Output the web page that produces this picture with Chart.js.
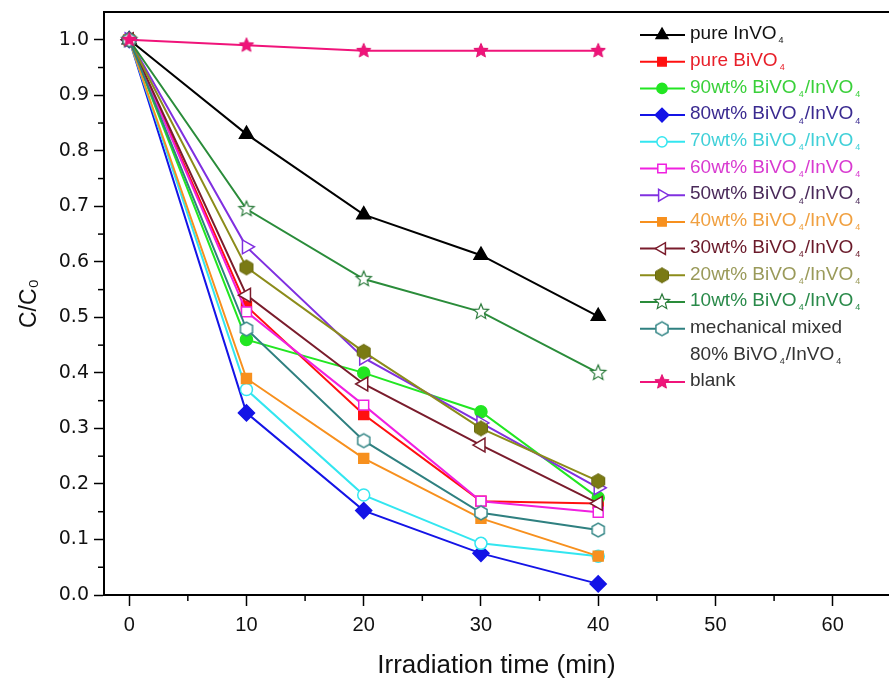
<!DOCTYPE html>
<html><head><meta charset="utf-8">
<script src="https://cdn.jsdelivr.net/npm/chart.js@4/dist/chart.umd.min.js"></script>
<style>html,body{margin:0;padding:0;background:#fff;overflow:hidden}#wrap{width:889px;height:679px;position:relative}</style>
</head><body><div id="wrap"><canvas id="c" width="889" height="679"></canvas></div>
<script>
// ---- data ----
const times = [0, 10, 20, 30, 40];
const pureInVO4 = [1.0, 0.83, 0.685, 0.612, 0.502];
const pureBiVO4 = [1.0, 0.52, 0.325, 0.169, 0.165];
const wt90 = [1.0, 0.46, 0.40, 0.33, 0.175];
const wt80 = [1.0, 0.328, 0.152, 0.075, 0.02];
const wt70 = [1.0, 0.37, 0.18, 0.093, 0.07];
const wt60 = [1.0, 0.51, 0.342, 0.169, 0.149];
const wt50 = [1.0, 0.627, 0.427, 0.31, 0.193];
const wt40 = [1.0, 0.39, 0.246, 0.138, 0.07];
const wt30 = [1.0, 0.54, 0.38, 0.27, 0.165];
const wt20 = [1.0, 0.59, 0.438, 0.30, 0.205];
const wt10 = [1.0, 0.695, 0.569, 0.51, 0.40];
const mechMixed = [1.0, 0.479, 0.278, 0.148, 0.117];
const blank = [1.0, 0.99, 0.98, 0.98, 0.98];
const seriesNames = ['pure InVO₄', 'pure BiVO₄', '90wt% BiVO₄/InVO₄', '80wt% BiVO₄/InVO₄', '70wt% BiVO₄/InVO₄',
  '60wt% BiVO₄/InVO₄', '50wt% BiVO₄/InVO₄', '40wt% BiVO₄/InVO₄', '30wt% BiVO₄/InVO₄', '20wt% BiVO₄/InVO₄',
  '10wt% BiVO₄/InVO₄', ['mechanical mixed', '80% BiVO₄/InVO₄'], 'blank'];
const seriesValues = [pureInVO4, pureBiVO4, wt90, wt80, wt70, wt60, wt50, wt40, wt30, wt20, wt10, mechMixed, blank];
const xTicks = [0, 10, 20, 30, 40, 50, 60];
const xMinorTicks = [5, 15, 25, 35, 45, 55];
const yMinorTicks = [0.05, 0.15, 0.25, 0.35, 0.45, 0.55, 0.65, 0.75, 0.85, 0.95];

// ---- styles ----
const lineColors = ['#000000', '#ff1010', '#22e622', '#1414e6', '#33e6f0', '#f020e0', '#8030e0', '#f7901e',
  '#7a1c2c', '#8c8c1a', '#2a8c3a', '#2f8080', '#f0147a'];
const textColors = ['#111111', '#e8202a', '#3ad03a', '#3a2a90', '#40d0d8', '#d83ad0', '#4a2a5a', '#f0a040',
  '#6a1a2a', '#9a9a5a', '#2a8a4a', '#333333', '#333333'];

function shapeCanvas(kind, r, fill, stroke, lw) {
  const s = Math.ceil(2 * r + lw + 2);
  const c = document.createElement('canvas');
  c.width = s; c.height = s;
  const g = c.getContext('2d');
  g.translate(s / 2, s / 2);
  g.beginPath();
  if (kind === 'hex') {
    for (let k = 0; k < 6; k++) {
      const a = Math.PI / 6 + k * Math.PI / 3;
      const px = r * Math.cos(a), py = r * Math.sin(a);
      k ? g.lineTo(px, py) : g.moveTo(px, py);
    }
  } else {
    for (let k = 0; k < 10; k++) {
      const a = -Math.PI / 2 + k * Math.PI / 5;
      const rr = k % 2 ? r * 0.45 : r;
      const px = rr * Math.cos(a), py = rr * Math.sin(a);
      k ? g.lineTo(px, py) : g.moveTo(px, py);
    }
  }
  g.closePath();
  if (fill) { g.fillStyle = fill; g.fill(); }
  if (stroke) { g.strokeStyle = stroke; g.lineWidth = lw; g.stroke(); }
  return c;
}
const hexOlive = shapeCanvas('hex', 7.5, '#7a7a14', '#6a6a10', 1);
const hexTeal = shapeCanvas('hex', 7, '#ffffff', '#3a8a8a', 1.5);
const starGreen = shapeCanvas('star', 8, '#ffffff', '#2a7a3a', 1.2);
const starPink = shapeCanvas('star', 7.5, '#f0147a', '#e01070', 1);

// pointStyle, rotation, radius, fill
const markers = [
  ['triangle', 0, 8, '#000000'],
  ['rect', 0, 7, '#ff1010'],
  ['circle', 0, 6, '#22e622'],
  ['rectRot', 0, 8, '#1414e6'],
  ['circle', 0, 6, '#ffffff'],
  ['rect', 0, 7, '#ffffff'],
  ['triangle', 90, 8, '#ffffff'],
  ['rect', 0, 7, '#f7901e'],
  ['triangle', -90, 8, '#ffffff'],
  [hexOlive, 0, 8, '#7a7a14'],
  [starGreen, 0, 8, '#ffffff'],
  [hexTeal, 0, 8, '#ffffff'],
  [starPink, 0, 8, '#f0147a']
];

const datasets = seriesValues.map((vals, i) => ({
  label: Array.isArray(seriesNames[i]) ? seriesNames[i].join(' ') : seriesNames[i],
  data: times.map((t, k) => ({ x: t, y: vals[k] })),
  borderColor: lineColors[i],
  backgroundColor: markers[i][3],
  borderWidth: 2,
  pointStyle: markers[i][0],
  rotation: markers[i][1],
  pointRadius: markers[i][2],
  pointBorderColor: lineColors[i],
  pointBackgroundColor: markers[i][3],
  pointBorderWidth: 1.5,
  tension: 0,
  order: -i
}));

function drawRich(ctx, text, x, y, font, subFont) {
  const parts = text.split('₄');
  let cx = x;
  parts.forEach((p, k) => {
    ctx.font = font;
    ctx.fillText(p, cx, y);
    cx += ctx.measureText(p).width;
    if (k < parts.length - 1) {
      cx += 2;
      ctx.font = subFont;
      ctx.fillText('4', cx, y + 7);
      cx += ctx.measureText('4').width + 1;
    }
  });
}

const framePlugin = {
  id: 'frame',
  afterDraw(chart) {
    const ctx = chart.ctx, a = chart.chartArea;
    const xs = chart.scales.x, ys = chart.scales.y;
    ctx.save();
    ctx.strokeStyle = '#000'; ctx.lineWidth = 2;
    ctx.beginPath(); ctx.moveTo(a.left - 1, a.top); ctx.lineTo(a.right + 2, a.top); ctx.stroke();
    ctx.lineWidth = 1.5;
    xMinorTicks.forEach(v => { const px = xs.getPixelForValue(v); ctx.beginPath(); ctx.moveTo(px, a.bottom); ctx.lineTo(px, a.bottom + 6); ctx.stroke(); });
    yMinorTicks.forEach(v => { const py = ys.getPixelForValue(v); ctx.beginPath(); ctx.moveTo(a.left, py); ctx.lineTo(a.left - 6, py); ctx.stroke(); });
    // legend
    const lx0 = 640, lx1 = 685, mx = 662, tx = 690, top = 35, rowH = 26.7;
    ctx.textBaseline = 'middle'; ctx.textAlign = 'left';
    let row = 0;
    seriesNames.forEach((name, i) => {
      const y = top + row * rowH;
      ctx.strokeStyle = lineColors[i]; ctx.lineWidth = 2;
      ctx.beginPath(); ctx.moveTo(lx0, y); ctx.lineTo(lx1, y); ctx.stroke();
      ctx.fillStyle = markers[i][3]; ctx.strokeStyle = lineColors[i]; ctx.lineWidth = 1.5;
      const opts = { pointStyle: markers[i][0], rotation: markers[i][1], radius: markers[i][2] * 0.85, borderWidth: 1.5 };
      if (typeof markers[i][0] !== 'string') {
        const im = markers[i][0];
        ctx.drawImage(im, mx - im.width / 2, y - im.height / 2);
      } else {
        Chart.helpers.drawPoint(ctx, opts, mx, y);
      }
      ctx.fillStyle = textColors[i];
      const lines = Array.isArray(name) ? name : [name];
      lines.forEach((ln, k) => {
        drawRich(ctx, ln, tx, y + k * rowH - 1, '19px "Liberation Sans", Arial, sans-serif', '9px "Liberation Sans", Arial, sans-serif');
      });
      row += lines.length;
    });
    ctx.restore();
  }
};

new Chart(document.getElementById('c'), {
  type: 'line',
  data: { datasets },
  options: {
    responsive: false,
    animation: false,
    events: [],
    layout: { autoPadding: false, padding: { top: 12, left: 0, right: 0, bottom: 0 } },
    plugins: { legend: { display: false }, tooltip: { enabled: false } },
    scales: {
      x: {
        type: 'linear', min: -2.15, max: 64.8,
        afterFit(s) { s.height = 84; s.paddingLeft = 0; s.paddingRight = 0; },
        afterBuildTicks(s) { s.ticks = xTicks.map(v => ({ value: v })); },
        ticks: { includeBounds: false, stepSize: 10, padding: 7, color: '#111',
          font: { family: '"Liberation Sans", Arial', size: 20 } },
        grid: { drawOnChartArea: false, drawTicks: true, tickLength: 11, tickWidth: 1.5, tickColor: '#000' },
        border: { display: true, color: '#000', width: 2 },
        title: { display: true, text: 'Irradiation time (min)', color: '#111', padding: { top: 0, bottom: 0 },
          font: { family: '"Liberation Sans", Arial', size: 26, lineHeight: 1.0 } }
      },
      y: {
        min: 0, max: 1.05,
        afterFit(s) { s.width = 104; s.paddingTop = 0; s.paddingBottom = 0; },
        ticks: { includeBounds: false, stepSize: 0.1, padding: 5, color: '#111',
          callback: v => Number(v).toFixed(1),
          font: { family: '"DejaVu Sans", Verdana, sans-serif', size: 19 } },
        grid: { drawOnChartArea: false, drawTicks: true, tickLength: 10, tickWidth: 1.5, tickColor: '#000' },
        border: { display: true, color: '#000', width: 2 },
        title: { display: true, text: 'C/C₀', color: '#111', padding: { top: 18, bottom: 0 },
          font: { family: '"Liberation Sans", Arial', size: 23, lineHeight: 1.0 } }
      }
    }
  },
  plugins: [framePlugin]
});
</script></body></html>
